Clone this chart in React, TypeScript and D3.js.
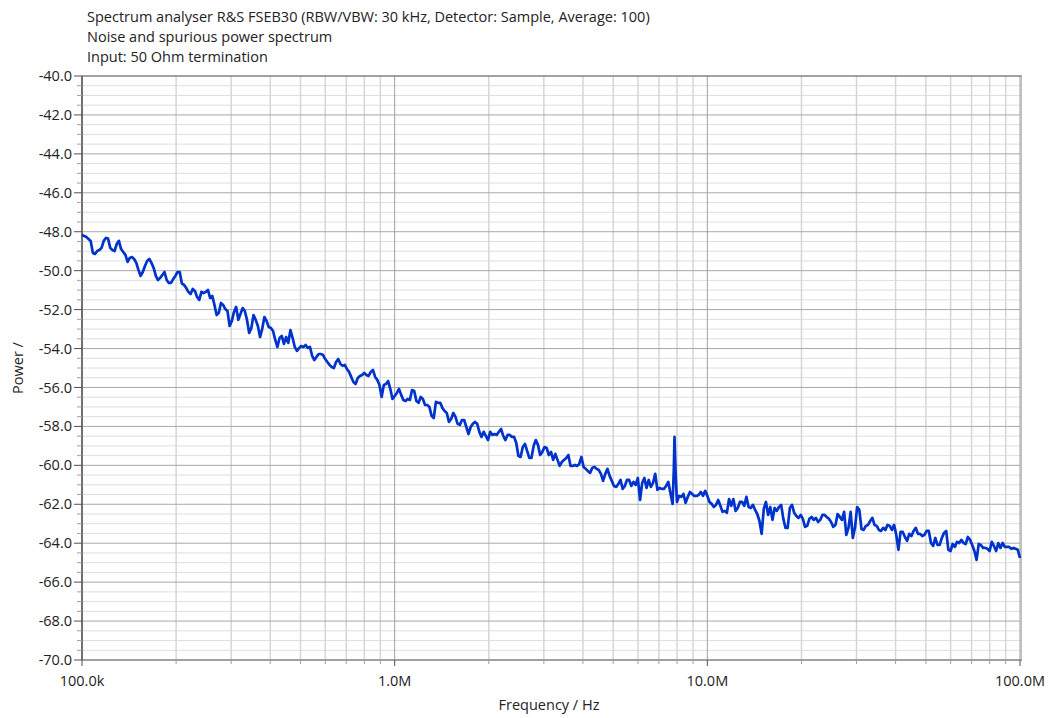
import * as d3 from "d3";

// Spectrum trace, one decade per array pair: frequency (kHz), power (dB)
const freq100k = [
  100, 101.61, 103.25, 104.91, 106.6, 108.32, 110.07, 111.84, 113.65, 115.48,
  117.35, 119.24, 121.15, 123.1, 125.1, 127.12, 129.15, 131.23, 133.35, 135.5,
  137.68, 139.9, 142.16, 144.45, 146.78, 149.15, 151.55, 153.99, 156.47, 158.99,
  161.56, 164.16, 166.81, 169.5, 172.23, 175.01, 177.83, 180.7, 183.61, 186.57,
  189.57, 192.63, 195.73, 198.89, 202.09, 205.35, 208.66, 212.02, 215.44, 218.91,
  222.44, 226.03, 229.67, 233.37, 237.14, 240.96, 244.84, 248.79, 252.8, 256.88,
  261.02, 265.23, 269.5, 273.84, 278.26, 282.75, 287.3, 291.93, 296.63, 301.41,
  306.27, 311.21, 316.23, 321.33, 326.5, 331.76, 337.11, 342.54, 348.07, 353.68,
  359.38, 365.17, 371.06, 377.04, 383.12, 389.3, 395.57, 401.95, 408.42, 415.0,
  421.7, 428.5, 435.4, 442.42, 449.55, 456.8, 464.16, 471.64, 479.24, 486.97,
  494.82, 502.8, 510.9, 519.14, 527.5, 536.0, 544.64, 553.42, 562.34, 571.4,
  580.62, 589.98, 599.48, 609.14, 618.97, 628.95, 639.08, 649.38, 659.85, 670.49,
  681.29, 692.27, 703.42, 714.76, 726.29, 738.0, 749.89, 761.98, 774.26, 786.74,
  799.42, 812.31, 825.4, 838.71, 852.22, 865.96, 879.92, 894.1, 908.52, 923.16,
  938.04, 953.16, 968.53, 984.14,
];
const power100k = [
  -48.17, -48.22, -48.27, -48.37, -48.47, -49.09, -49.14, -48.99, -48.94, -48.83,
  -48.47, -48.32, -48.35, -48.83, -48.94, -48.99, -48.63, -48.47, -48.89, -49.04,
  -49.19, -49.55, -49.35, -49.3, -49.4, -49.6, -49.96, -50.27, -50.07, -49.76,
  -49.5, -49.4, -49.6, -49.86, -50.27, -50.48, -50.37, -50.22, -50.07, -50.48,
  -50.63, -50.63, -50.43, -50.27, -50.07, -50.07, -50.66, -50.73, -50.89, -51.09,
  -51.2, -50.94, -51.04, -51.35, -51.5, -51.09, -51.15, -51.09, -50.99, -51.4,
  -51.3, -51.76, -52.28, -52.17, -51.66, -51.76, -51.97, -52.07, -52.84, -52.58,
  -52.12, -51.86, -52.53, -52.22, -51.92, -52.07, -52.53, -53.2, -52.94, -52.28,
  -52.53, -52.84, -53.41, -52.99, -52.38, -52.58, -52.89, -52.94, -53.1, -53.56,
  -53.92, -53.46, -53.35, -53.76, -53.41, -53.71, -53.05, -53.46, -53.92, -54.12,
  -53.97, -53.87, -53.92, -53.82, -53.97, -53.92, -54.38, -54.59, -54.43, -54.28,
  -54.28, -54.33, -54.54, -54.69, -54.84, -54.95, -55.0, -54.69, -54.54, -54.79,
  -54.89, -54.84, -55.05, -55.2, -55.46, -55.72, -55.82, -55.51, -55.41, -55.36,
  -55.25, -55.36, -55.41, -55.2, -55.1, -55.46, -55.61, -55.87, -56.49, -55.87,
  -55.82, -55.67, -56.08, -56.59,
];

const freq1M = [
  1000, 1016.1, 1032.5, 1049.1, 1066, 1083.2, 1100.7, 1118.4, 1136.5, 1154.8,
  1173.5, 1192.4, 1211.5, 1231.0, 1251, 1271.2, 1291.5, 1312.3, 1333.5, 1355.0,
  1376.8, 1399.0, 1421.6, 1444.5, 1467.8, 1491.5, 1515.5, 1539.9, 1564.7, 1589.9,
  1615.6, 1641.6, 1668.1, 1695.0, 1722.3, 1750.1, 1778.3, 1807.0, 1836.1, 1865.7,
  1895.7, 1926.3, 1957.3, 1988.9, 2020.9, 2053.5, 2086.6, 2120.2, 2154.4, 2189.1,
  2224.4, 2260.3, 2296.7, 2333.7, 2371.4, 2409.6, 2448.4, 2487.9, 2528, 2568.8,
  2610.2, 2652.3, 2695, 2738.4, 2782.6, 2827.5, 2873, 2919.3, 2966.3, 3014.1,
  3062.7, 3112.1, 3162.3, 3213.3, 3265, 3317.6, 3371.1, 3425.4, 3480.7, 3536.8,
  3593.8, 3651.7, 3710.6, 3770.4, 3831.2, 3893.0, 3955.7, 4019.5, 4084.2, 4150.0,
  4217, 4285.0, 4354, 4424.2, 4495.5, 4568.0, 4641.6, 4716.4, 4792.4, 4869.7,
  4948.2, 5028.0, 5109, 5191.4, 5275, 5360.0, 5446.4, 5534.2, 5623.4, 5714.0,
  5806.2, 5899.8, 5994.8, 6091.4, 6189.7, 6289.5, 6390.8, 6493.8, 6598.5, 6704.9,
  6812.9, 6922.7, 7034.2, 7147.6, 7262.9, 7380.0, 7498.9, 7619.8, 7742.6, 7812, 7852, 7910,
  7994.2, 8123.1, 8254, 8387.1, 8522.2, 8659.6, 8799.2, 8941.0, 9085.2, 9231.6,
  9380.4, 9531.6, 9685.3, 9841.4,
];
const power1M = [
  -56.44, -56.28, -56.08, -56.38, -56.64, -56.69, -56.59, -56.64, -56.13, -56.18,
  -56.69, -56.79, -56.49, -56.59, -56.9, -56.9, -57.0, -57.46, -57.57, -56.74,
  -56.79, -56.79, -57.05, -57.21, -57.31, -57.77, -57.62, -57.31, -57.51, -57.87,
  -57.92, -57.67, -57.67, -58.03, -58.39, -58.03, -57.87, -57.77, -57.87, -58.28,
  -58.54, -58.28, -58.49, -58.7, -58.28, -58.44, -58.39, -58.44, -58.28, -58.13,
  -58.49, -58.7, -58.44, -58.44, -58.54, -58.54, -58.85, -59.52, -59.57, -59.06,
  -58.9, -59.26, -59.62, -59.62, -59.0, -58.7, -58.95, -59.47, -59.31, -59.06,
  -59.11, -59.47, -59.31, -59.72, -59.41, -59.72, -60.03, -59.83, -59.72, -59.62,
  -59.47, -60.03, -60.03, -59.98, -60.03, -59.93, -59.57, -60.08, -60.18, -60.29,
  -60.39, -60.13, -60.08, -60.18, -60.24, -60.44, -60.8, -60.44, -60.18, -60.54,
  -60.8, -61.06, -61.11, -60.96, -60.75, -61.21, -61.06, -60.75, -60.75, -61.06,
  -60.85, -61.01, -60.65, -61.78, -60.9, -60.65, -61.16, -60.75, -61.11, -60.9,
  -60.44, -61.26, -61.16, -61.21, -61.21, -61.06, -60.85, -61.42, -61.98, -60.24, -58.54, -60.24,
  -61.88, -61.57, -61.62, -61.47, -61.93, -61.62, -61.37, -61.47, -61.57, -61.57,
  -61.52, -61.37, -61.57, -61.31,
];

const freq10M = [
  10000, 10161, 10325, 10491, 10660, 10832, 11007, 11184, 11365, 11548,
  11735, 11924, 12115, 12310, 12510, 12712, 12915, 13123, 13335, 13550,
  13768, 13990, 14216, 14445, 14678, 14915, 15155, 15399, 15647, 15899,
  16156, 16416, 16681, 16950, 17223, 17501, 17783, 18070, 18361, 18657,
  18957, 19263, 19573, 19889, 20209, 20535, 20866, 21202, 21544, 21891,
  22244, 22603, 22967, 23337, 23714, 24096, 24484, 24879, 25280, 25688,
  26102, 26523, 26950, 27384, 27826, 28275, 28730, 29193, 29663, 30141,
  30627, 31121, 31623, 32133, 32650, 33176, 33711, 34254, 34807, 35368,
  35938, 36517, 37106, 37704, 38312, 38930, 39557, 40195, 40842, 41500,
  42170, 42850, 43540, 44242, 44955, 45680, 46416, 47164, 47924, 48697,
  49482, 50280, 51090, 51914, 52750, 53600, 54464, 55342, 56234, 57140,
  58062, 58998, 59948, 60914, 61897, 62895, 63908, 64938, 65985, 67049,
  68129, 69227, 70342, 71476, 72629, 73800, 74989, 76198, 77426, 78674,
  79942, 81231, 82540, 83871, 85222, 86596, 87992, 89410, 90852, 92316,
  93804, 95316, 96853, 98414, 100000,
];
const power10M = [
  -61.57, -61.88, -61.98, -62.14, -62.03, -61.78, -62.08, -62.39, -62.34, -62.44,
  -61.73, -62.08, -61.73, -62.34, -62.19, -61.88, -61.88, -62.08, -61.62, -62.14,
  -62.19, -62.03, -62.29, -62.5, -62.86, -63.52, -62.24, -61.88, -62.55, -62.14,
  -62.8, -62.19, -62.34, -62.14, -62.03, -62.75, -63.21, -63.21, -62.19, -62.03,
  -62.44, -62.6, -62.7, -62.55, -62.75, -63.16, -63.11, -62.75, -62.65, -62.8,
  -62.7, -62.91, -62.8, -62.55, -62.55, -62.65, -62.75, -62.91, -63.16, -63.06,
  -62.5, -62.65, -62.8, -62.39, -63.57, -63.21, -62.39, -63.73, -63.21, -62.14,
  -62.29, -63.27, -63.32, -63.11, -63.06, -62.86, -62.7, -63.06, -63.11, -63.32,
  -63.37, -63.21, -63.32, -63.06, -63.11, -63.32, -63.06, -63.57, -64.34, -63.42,
  -63.42, -63.68, -63.88, -63.52, -63.63, -63.37, -63.21, -63.52, -63.52, -63.63,
  -63.57, -63.37, -63.37, -63.99, -64.14, -63.73, -64.09, -64.09, -63.73, -63.47,
  -63.37, -64.34, -64.4, -64.04, -64.19, -63.93, -63.99, -63.83, -63.99, -64.04,
  -63.68, -63.83, -64.09, -64.4, -64.86, -64.04, -64.09, -64.24, -64.24, -64.29,
  -64.4, -63.93, -64.14, -64.4, -63.99, -64.24, -63.99, -64.19, -64.19, -64.19,
  -64.29, -64.24, -64.29, -64.34, -64.76,
];

const titleLines = [
  "Spectrum analyser R&S FSEB30 (RBW/VBW: 30 kHz, Detector: Sample, Average: 100)",
  "Noise and spurious power spectrum",
  "Input: 50 Ohm termination",
];

const yTicks = [-40, -42, -44, -46, -48, -50, -52, -54, -56, -58, -60, -62, -64, -66, -68, -70];
const xTicks = [1e5, 1e6, 1e7, 1e8];
const xTickLabels = ["100.0k", "1.0M", "10.0M", "100.0M"];

const W = 1050;
const H = 718;
const FONT = "'Open Sans', 'Noto Sans', sans-serif";
const FS = 14.5;

export default function App() {
  const x = d3.scaleLog().domain([1e5, 1e8]).range([82, 1020]);
  const y = d3.scaleLinear().domain([-70, -40]).range([660, 76]);

  const freqs = [...freq100k, ...freq1M, ...freq10M];
  const powers = [...power100k, ...power1M, ...power10M];
  const points: [number, number][] = freqs.map((f, i) => [f * 1000, powers[i]]);
  const line = d3
    .line<[number, number]>()
    .x((d) => x(d[0]))
    .y((d) => y(d[1]));

  const yMinor = d3.range(-70, -39.99, 0.5).filter((v) => !yTicks.includes(v));
  const xMinor = x.ticks().filter((v) => !xTicks.includes(v));

  const [x0, x1] = x.range();
  const [y0, y1] = y.range();

  return (
    <div style={{ position: "absolute", left: 0, top: 0, background: "#fff" }}>
      <svg width={W} height={H} style={{ display: "block", fontFamily: FONT }}>
        {titleLines.map((t, i) => (
          <text key={i} x={87} y={22 + i * 20} fontSize={FS} fill="#222">
            {t}
          </text>
        ))}

        {/* minor grid */}
        {yMinor.map((v) => (
          <line key={`ym${v}`} x1={x0} x2={x1 + 1} y1={y(v)} y2={y(v)} stroke="#dedede" strokeWidth={1} />
        ))}
        {xMinor.map((v) => (
          <line key={`xm${v}`} x1={x(v)} x2={x(v)} y1={y1} y2={y0} stroke="#d6d6d6" strokeWidth={1.5} />
        ))}
        {/* major grid */}
        {yTicks.map((v) => (
          <line key={`yM${v}`} x1={x0} x2={x1 + 1} y1={y(v)} y2={y(v)} stroke="#a8a8a8" strokeWidth={1} />
        ))}
        {xTicks.map((v) => (
          <line key={`xM${v}`} x1={x(v)} x2={x(v)} y1={y1} y2={y0} stroke="#a0a0a0" strokeWidth={1} />
        ))}

        {/* frame */}
        <line x1={x1 + 1} x2={x1 + 1} y1={y1} y2={y0} stroke="#c0c0c0" strokeWidth={2} />
        <line x1={x0} x2={x1 + 2} y1={y1} y2={y1} stroke="#707070" strokeWidth={1} />
        <line x1={x0} x2={x1 + 2} y1={y0} y2={y0} stroke="#909090" strokeWidth={1.5} />
        <line x1={x0} x2={x0} y1={y1} y2={y0} stroke="#505050" strokeWidth={1.5} />

        {/* trace */}
        <path
          d={line(points) ?? ""}
          fill="none"
          stroke="#0033cc"
          strokeWidth={2.7}
          strokeLinejoin="round"
        />

        {/* y axis ticks */}
        {yMinor.map((v) => (
          <line key={`ytm${v}`} x1={x0 - 5} x2={x0} y1={y(v)} y2={y(v)} stroke="#a0a0a0" />
        ))}
        {yTicks.map((v) => (
          <g key={`yt${v}`}>
            <line x1={x0 - 8} x2={x0} y1={y(v)} y2={y(v)} stroke="#505050" />
            <text x={x0 - 10} y={y(v)} dy="0.35em" textAnchor="end" fontSize={FS} fill="#222">
              {d3.format(".1f")(v).replace("−", "-")}
            </text>
          </g>
        ))}

        {/* x axis ticks */}
        {xMinor.map((v) => (
          <line key={`xtm${v}`} x1={x(v)} x2={x(v)} y1={y0} y2={y0 + 4} stroke="#a0a0a0" />
        ))}
        {xTicks.map((v, i) => (
          <g key={`xt${v}`}>
            <line x1={x(v)} x2={x(v)} y1={y0} y2={y0 + 6} stroke="#505050" />
            <text x={x(v)} y={y0 + 26} textAnchor="middle" fontSize={FS} fill="#222">
              {xTickLabels[i]}
            </text>
          </g>
        ))}

        <text x={(x0 + x1) / 2 - 2} y={710} textAnchor="middle" fontSize={FS} fill="#222">
          Frequency / Hz
        </text>
        <text
          transform={`translate(23,${(y0 + y1) / 2}) rotate(-90)`}
          textAnchor="middle"
          fontSize={FS}
          fill="#222"
        >
          Power /
        </text>
      </svg>
    </div>
  );
}
